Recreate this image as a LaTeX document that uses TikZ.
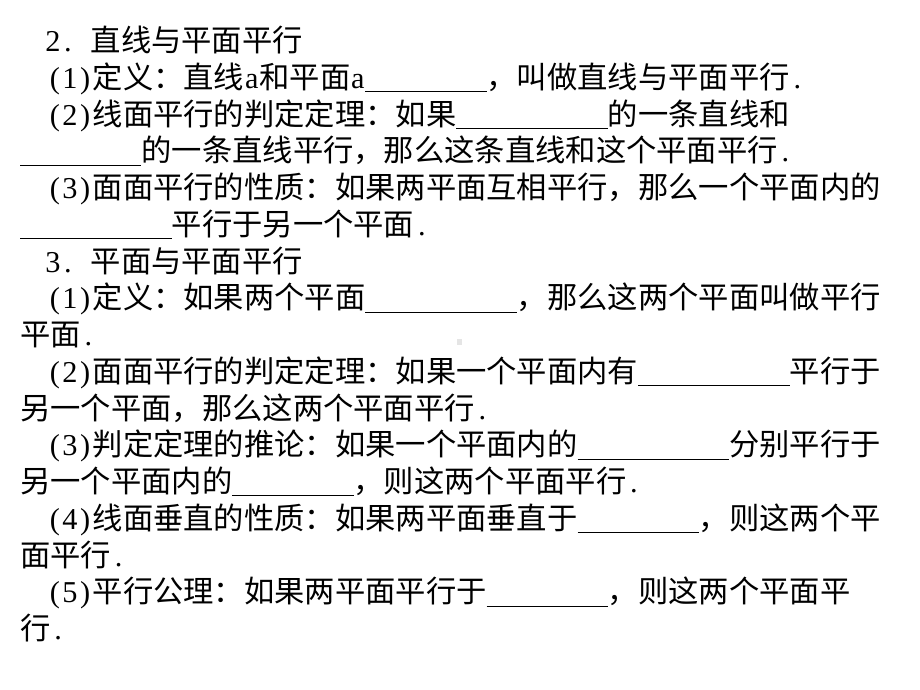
\documentclass[tikz,border=0pt]{standalone}
\usepackage{fontspec}
\setmainfont{Noto Sans CJK SC}
\newfontfamily\latfont{Liberation Serif}
\newcommand\hw[1]{\makebox[0.5em]{\latfont #1}}
\newcommand\fw[1]{\makebox[1em][l]{#1}}
\newcommand\nr[1]{\hw(\hw{#1}\hw)}
\newcommand\blank[1]{\rule[-0.12em]{\dimexpr 0.5em*#1\relax}{0.6pt}}
\tikzset{ln/.style={anchor=base west,inner sep=0pt,font=\fontsize{21.55pt}{26pt}\selectfont}}

\begin{document}
\begin{tikzpicture}[x=0.025cm,y=-0.025cm]
 \useasboundingbox[fill=white] (0,0) rectangle (920,690);
 % 2. 直线与平面平行
 \node[ln] (l1) at (45,51.5) {\hw2\hw.\hw{~}直线与平面平行};
 \node[ln] (l2) at (47,88.25) {\nr1定义\fw：直线\hw a和平面\hw a\blank8\fw，叫做直线与平面平行\hw.};
 \node[ln] (l3) at (47,125) {\nr2线面平行的判定定理\fw：如果\blank{10}的一条直线和};
 \node[ln] (l4) at (20,161.75) {\blank8的一条直线平行\fw，那么这条直线和这个平面平行\hw.};
 \node[ln] (l5) at (47,198.5) {\nr3面面平行的性质\fw：如果两平面互相平行\fw，那么一个平面内的};
 \node[ln] (l6) at (20,235.25) {\blank{10}平行于另一个平面\hw.};
 % 3. 平面与平面平行
 \node[ln] (l7) at (45,272) {\hw3\hw.\hw{~}平面与平面平行};
 \node[ln] (l8) at (47,308.75) {\nr1定义\fw：如果两个平面\blank{10}\fw，那么这两个平面叫做平行};
 \node[ln] (l9) at (20,345.5) {平面\hw.};
 \node[ln] (l10) at (47,382.25) {\nr2面面平行的判定定理\fw：如果一个平面内有\blank{10}平行于};
 \node[ln] (l11) at (20,419) {另一个平面\fw，那么这两个平面平行\hw.};
 \node[ln] (l12) at (47,455.75) {\nr3判定定理的推论\fw：如果一个平面内的\blank{10}分别平行于};
 \node[ln] (l13) at (20,492.5) {另一个平面内的\blank8\fw，则这两个平面平行\hw.};
 \node[ln] (l14) at (47,529.25) {\nr4线面垂直的性质\fw：如果两平面垂直于\blank8\fw，则这两个平};
 \node[ln] (l15) at (20,566) {面平行\hw.};
 \node[ln] (l16) at (47,602.75) {\nr5平行公理\fw：如果两平面平行于\blank8\fw，则这两个平面平};
 \node[ln] (l17) at (20,639.5) {行\hw.};
 \fill[gray!20] (457,339) rectangle (462,345);
\end{tikzpicture}
\end{document}
